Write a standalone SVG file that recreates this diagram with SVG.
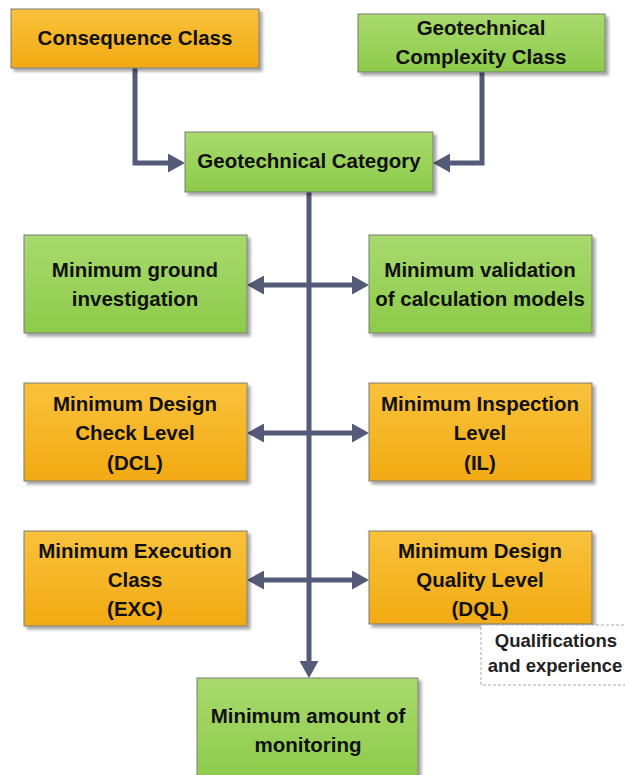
<svg xmlns="http://www.w3.org/2000/svg" width="625" height="775" viewBox="0 0 625 775">
  <defs>
    <linearGradient id="gOrange" x1="0" y1="0" x2="0" y2="1">
      <stop offset="0" stop-color="#f9c23c"/>
      <stop offset="1" stop-color="#f2aa12"/>
    </linearGradient>
    <linearGradient id="gGreen" x1="0" y1="0" x2="0" y2="1">
      <stop offset="0" stop-color="#a8da6e"/>
      <stop offset="1" stop-color="#8dcb4a"/>
    </linearGradient>
    <filter id="shadow" x="-10%" y="-10%" width="125%" height="130%">
      <feDropShadow dx="3" dy="3" stdDeviation="1.5" flood-color="#000" flood-opacity="0.35"/>
    </filter>
    <marker id="arrow" viewBox="0 0 17 19" refX="7" refY="9.5" markerWidth="17" markerHeight="19" markerUnits="userSpaceOnUse" orient="auto-start-reverse">
      <path d="M0,0 L17,9.5 L0,19 Z" fill="#535b78"/>
    </marker>
  </defs>
  <style>
    .box { stroke: #7a7a7a; stroke-width: 1; filter: url(#shadow); }
    .orange { fill: url(#gOrange); }
    .green { fill: url(#gGreen); }
    .lbl { font-family: "Liberation Sans", Arial, sans-serif; font-weight: bold; font-size: 20.5px; fill: #111; text-anchor: middle; }
    .note { font-family: "Liberation Sans", Arial, sans-serif; font-weight: bold; font-size: 18.5px; fill: #222; text-anchor: middle; }
    .conn { fill: none; stroke: #535b78; stroke-width: 5; }
  </style>
  <rect width="625" height="775" fill="#ffffff"/>

  <!-- connectors -->
  <g id="connectors">
    <path class="conn" d="M135,68 V163 H175" marker-end="url(#arrow)"/>
    <path class="conn" d="M482,72 V163 H443" marker-end="url(#arrow)"/>
    <path class="conn" d="M309,192 V668" marker-end="url(#arrow)"/>
    <path class="conn" d="M257,285 H359" marker-start="url(#arrow)" marker-end="url(#arrow)"/>
    <path class="conn" d="M257,433 H359" marker-start="url(#arrow)" marker-end="url(#arrow)"/>
    <path class="conn" d="M257,580 H359" marker-start="url(#arrow)" marker-end="url(#arrow)"/>
  </g>

  <g id="consequence-class">
    <rect class="box orange" x="11" y="9" width="248" height="59"/>
    <text class="lbl" x="135" y="45">Consequence Class</text>
  </g>

  <g id="complexity-class">
    <rect class="box green" x="358" y="14" width="247" height="58"/>
    <text class="lbl" x="481" y="35">Geotechnical</text>
    <text class="lbl" x="481" y="64">Complexity Class</text>
  </g>

  <g id="geotechnical-category">
    <rect class="box green" x="185" y="132" width="248" height="60"/>
    <text class="lbl" x="309" y="168">Geotechnical Category</text>
  </g>

  <g id="ground-investigation">
    <rect class="box green" x="24" y="235" width="223" height="98"/>
    <text class="lbl" x="135" y="277">Minimum ground</text>
    <text class="lbl" x="135" y="306">investigation</text>
  </g>

  <g id="model-validation">
    <rect class="box green" x="369" y="235" width="223" height="98"/>
    <text class="lbl" x="480" y="277">Minimum validation</text>
    <text class="lbl" x="480" y="306">of calculation models</text>
  </g>

  <g id="design-check-level">
    <rect class="box orange" x="24" y="383" width="223" height="98"/>
    <text class="lbl" x="135" y="411">Minimum Design</text>
    <text class="lbl" x="135" y="440">Check Level</text>
    <text class="lbl" x="135" y="470">(DCL)</text>
  </g>

  <g id="inspection-level">
    <rect class="box orange" x="369" y="383" width="223" height="98"/>
    <text class="lbl" x="480" y="411">Minimum Inspection</text>
    <text class="lbl" x="480" y="440">Level</text>
    <text class="lbl" x="480" y="470">(IL)</text>
  </g>

  <g id="execution-class">
    <rect class="box orange" x="24" y="531" width="223" height="95"/>
    <text class="lbl" x="135" y="558">Minimum Execution</text>
    <text class="lbl" x="135" y="587">Class</text>
    <text class="lbl" x="135" y="616">(EXC)</text>
  </g>

  <g id="design-quality-level">
    <rect class="box orange" x="369" y="531" width="223" height="93"/>
    <text class="lbl" x="480" y="558">Minimum Design</text>
    <text class="lbl" x="480" y="587">Quality Level</text>
    <text class="lbl" x="480" y="616">(DQL)</text>
  </g>

  <g id="qualifications">
    <rect x="481" y="625" width="150" height="60" fill="#ffffff" stroke="#aaaaaa" stroke-width="1" stroke-dasharray="3,2"/>
    <text class="note" x="556" y="647">Qualifications</text>
    <text class="note" x="555" y="672">and experience</text>
  </g>

  <g id="monitoring">
    <rect class="box green" x="197" y="678" width="221" height="105"/>
    <text class="lbl" x="308" y="723">Minimum amount of</text>
    <text class="lbl" x="308" y="752">monitoring</text>
  </g>
</svg>
